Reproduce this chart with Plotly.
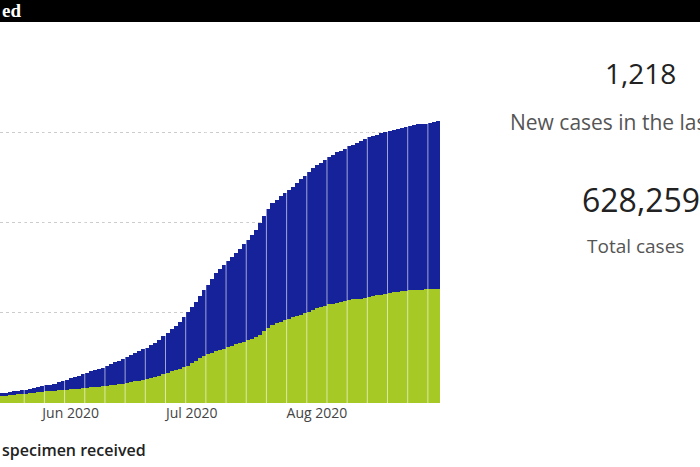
import plotly.graph_objects as go
import pandas as pd

dates = pd.date_range("2020-05-15", "2020-08-31", freq="D")
total_k = [22,23,24,26,27,28,30,31,33,
           35,37,39,41,43,46,49,52,
           55,58,61,64,67,70,73,75,78,
           82,86,90,94,98,102,106,111,
           115,119,123,128,134,141,148,156,
           164,172,181,191,202,213,225,237,
           250,263,276,289,298,307,316,325,333,
           343,353,363,374,385,400,415,430,444,
           452,460,467,474,481,489,497,505,514,522,
           528,534,540,546,552,557,561,565,570,574,
           578,582,586,590,593,596,599,602,605,607,
           609,611,613,615,617,619,620,621,623,624,626]
green_k = [15,16,17,18,19,20,21,22,23,
           24,25,26,27,27,28,29,30,
           31,32,32,33,34,35,36,36,37,
           38,40,41,42,43,45,46,48,
           50,52,54,56,58,61,64,67,
           70,73,76,80,83,88,94,100,
           104,108,112,115,118,121,124,127,130,
           133,136,139,142,146,152,160,167,174,
           178,181,184,187,190,193,196,199,203,207,
           210,213,216,219,221,223,225,227,228,230,
           231,232,234,235,237,239,241,243,245,246,
           247,248,249,250,251,252,252,253,253,254,254]
green = [g*1000 for g in green_k]
blue = [(t-g)*1000 for t, g in zip(total_k, green_k)]
separators = pd.date_range("2020-05-20 12:00", "2020-08-31", freq="5D")

fig = go.Figure()
fig.add_bar(x=dates, y=green, marker=dict(color="#A6C926", line=dict(width=0)))
fig.add_bar(x=dates, y=blue, marker=dict(color="#15229A", line=dict(width=0)))
fig.update_layout(
    barmode="stack", bargap=0, showlegend=False,
    width=700, height=467, margin=dict(l=0, r=260, t=110, b=64),
    paper_bgcolor="white", plot_bgcolor="white",
    font=dict(family="Open Sans"),
)
fig.update_xaxes(range=["2020-05-14 12:00", "2020-08-31 12:00"], dtick="M1",
                 tick0="2020-06-01", tickformat="%b %Y", ticks="", showgrid=False,
                 tickfont=dict(size=14, color="#444"))
fig.update_yaxes(range=[0, 651000], dtick=200000, showticklabels=False,
                 gridcolor="#ccc", griddash="dot", zeroline=False)
for s in separators:
    fig.add_shape(type="line", xref="x", yref="paper", x0=s, x1=s, y0=0, y1=1,
                  line=dict(color="rgba(255,255,255,0.6)", width=1), layer="above")

fig.add_shape(type="rect", xref="paper", yref="paper", x0=-0.01, x1=1.6, y0=1.3, y1=1.5,
              fillcolor="black", line_width=0)
ann = [
    ("ed", 0.0, 10, 19, "white"),
    ("specimen received", 0.0, 450, 16, "#222"),
    ("1,218", 603, 73, 28, "#222"),
    ("New cases in the last 24 hours", 508, 122, 21, "#555"),
    ("628,259", 580, 199, 32, "#222"),
    ("Total cases", 585, 246, 19, "#555"),
]
for text, x, y, size, color in ann:
    fig.add_annotation(text=text, xref="paper", yref="paper",
                       x=x/440, y=(467-64-y)/293, xanchor="left", yanchor="middle",
                       showarrow=False, font=dict(size=size, color=color,
                       family="Open Sans"))
fig.layout.annotations[0].font.family = "Liberation Sans Narrow"
fig.layout.annotations[0].font.weight = "bold"
fig.layout.annotations[1].font.weight = 600
fig.write_html("out.html", config={"displayModeBar": False})
with open("out.html") as f:
    html = f.read()
html = html.replace("<body>", "<body style=\"margin:0\">", 1)
with open("out.html", "w") as f:
    f.write(html)
